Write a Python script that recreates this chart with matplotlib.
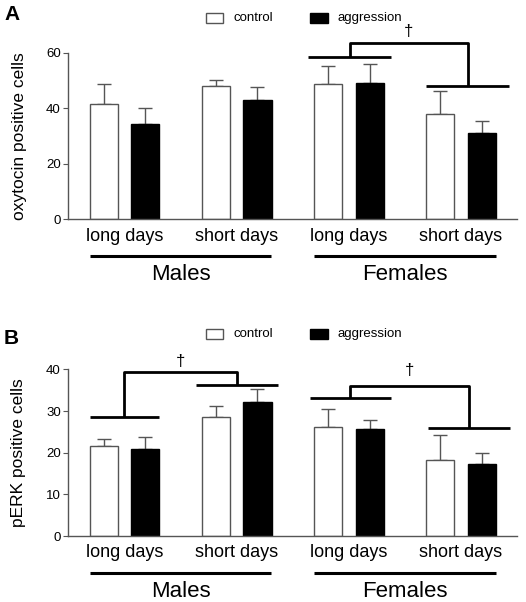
import numpy as np
import matplotlib
matplotlib.use('Agg')
import matplotlib.pyplot as plt
from matplotlib.patches import Rectangle

plt.rcParams['font.family'] = ['Liberation Sans', 'DejaVu Sans']

# data
groups = ['long days', 'short days', 'long days', 'short days']
sexes = ['Males', 'Females']
series = ['control', 'aggression']

oxt_control = [41.4, 48.0, 48.6, 38.0]
oxt_control_err = [7.3, 2.0, 6.5, 8.1]
oxt_aggr = [34.4, 42.8, 49.1, 31.2]
oxt_aggr_err = [5.6, 4.7, 6.8, 4.1]

perk_control = [21.5, 28.6, 26.1, 18.2]
perk_control_err = [1.9, 2.5, 4.5, 6.0]
perk_aggr = [21.0, 32.2, 25.7, 17.3]
perk_aggr_err = [2.8, 3.0, 2.1, 2.6]

# brackets: (left x span, left y, right x span, right y, top y, dagger y)
oxt_brackets = [((1.64, 2.38), 58.3, (2.69, 3.43), 48.1, 63.4, 67.5)]
perk_brackets = [((-0.31, 0.31), 28.5, (0.64, 1.37), 36.2, 39.4, 41.8),
                 ((1.65, 2.38), 33.0, (2.71, 3.44), 25.9, 35.9, 39.7)]

GREY = '#555555'
W = 0.25
OFF = 0.186


def draw_panel(ax, ctrl, ctrl_err, aggr, aggr_err, ylim, yticks, ylabel, brackets,
               letter, leg_y, letter_y):
    x = np.arange(len(groups))
    ax.bar(x - OFF, ctrl, W, color='white', edgecolor=GREY, linewidth=1.0, zorder=2)
    ax.bar(x + OFF, aggr, W, color='black', edgecolor='black', linewidth=1.0, zorder=2)
    ax.errorbar(x - OFF, ctrl, yerr=[np.zeros(4), ctrl_err], fmt='none',
                ecolor=GREY, elinewidth=1.0, capsize=5, capthick=1.0, zorder=1)
    ax.errorbar(x + OFF, aggr, yerr=[np.zeros(4), aggr_err], fmt='none',
                ecolor=GREY, elinewidth=1.0, capsize=5, capthick=1.0, zorder=1)

    ax.set_xlim(-0.5, 3.5)
    ax.set_ylim(*ylim)
    ax.set_yticks(yticks)
    ax.tick_params(axis='y', labelsize=9.5, length=3.5, width=0.8, color=GREY, pad=2)
    ax.set_xticks(x)
    ax.set_xticklabels(groups, fontsize=13)
    ax.tick_params(axis='x', length=0, pad=6)
    for s in ['top', 'right']:
        ax.spines[s].set_visible(False)
    for s in ['left', 'bottom']:
        ax.spines[s].set_color(GREY)
        ax.spines[s].set_linewidth(1.0)
    ax.set_ylabel(ylabel, fontsize=12.5, labelpad=14)

    # sex lines and labels
    tr = ax.get_xaxis_transform()
    for i, sex in enumerate(sexes):
        x0 = 2 * i - 0.31
        x1 = 2 * i + 1 + 0.31
        ax.plot([x0, x1], [-0.22, -0.22], color='black', lw=2.2,
                transform=tr, clip_on=False, solid_capstyle='butt')
        ax.text((x0 + x1) / 2, -0.33, sex, transform=tr, ha='center', va='center',
                fontsize=16)

    # significance brackets
    for (l, ly, r, ry, top, dy) in brackets:
        lc = (l[0] + l[1]) / 2
        rc = (r[0] + r[1]) / 2
        kw = dict(color='black', lw=2.0, clip_on=False, solid_capstyle='butt')
        ax.plot(l, [ly, ly], **kw)
        ax.plot(r, [ry, ry], **kw)
        ax.plot([lc, lc, rc, rc], [ly, top, top, ry], **kw)
        ax.text((lc + rc) / 2, dy, '\u2020', ha='center', va='center', fontsize=12)

    # legend
    fig = ax.figure
    ftr = fig.transFigure
    fig.add_artist(Rectangle((205.7 / 526, leg_y - 0.008), 17.6 / 526, 0.016,
                             transform=ftr, facecolor='white', edgecolor=GREY, lw=1.0))
    fig.text(233 / 526, leg_y, series[0], fontsize=9.5, va='center', ha='left')
    fig.add_artist(Rectangle((310 / 526, leg_y - 0.008), 18 / 526, 0.016,
                             transform=ftr, facecolor='black', edgecolor='black', lw=1.0))
    fig.text(337.7 / 526, leg_y, series[1], fontsize=9.5, va='center', ha='left')
    fig.text(4 / 526, letter_y, letter, fontsize=15, fontweight='bold',
             va='center', ha='left')


fig = plt.figure(figsize=(5.26, 6.02), dpi=100)
axA = fig.add_axes([0.130, 0.6357, 0.853, 0.2769])
axB = fig.add_axes([0.130, 0.1096, 0.853, 0.2769])

draw_panel(axA, oxt_control, oxt_control_err, oxt_aggr, oxt_aggr_err,
           (0, 60), [0, 20, 40, 60], 'oxytocin positive cells', oxt_brackets, 'A',
           1 - 18 / 602, 1 - 15 / 602)
draw_panel(axB, perk_control, perk_control_err, perk_aggr, perk_aggr_err,
           (0, 40), [0, 10, 20, 30, 40], 'pERK positive cells', perk_brackets, 'B',
           1 - 334 / 602, 1 - 338 / 602)

fig.savefig('out.png', dpi=100)
